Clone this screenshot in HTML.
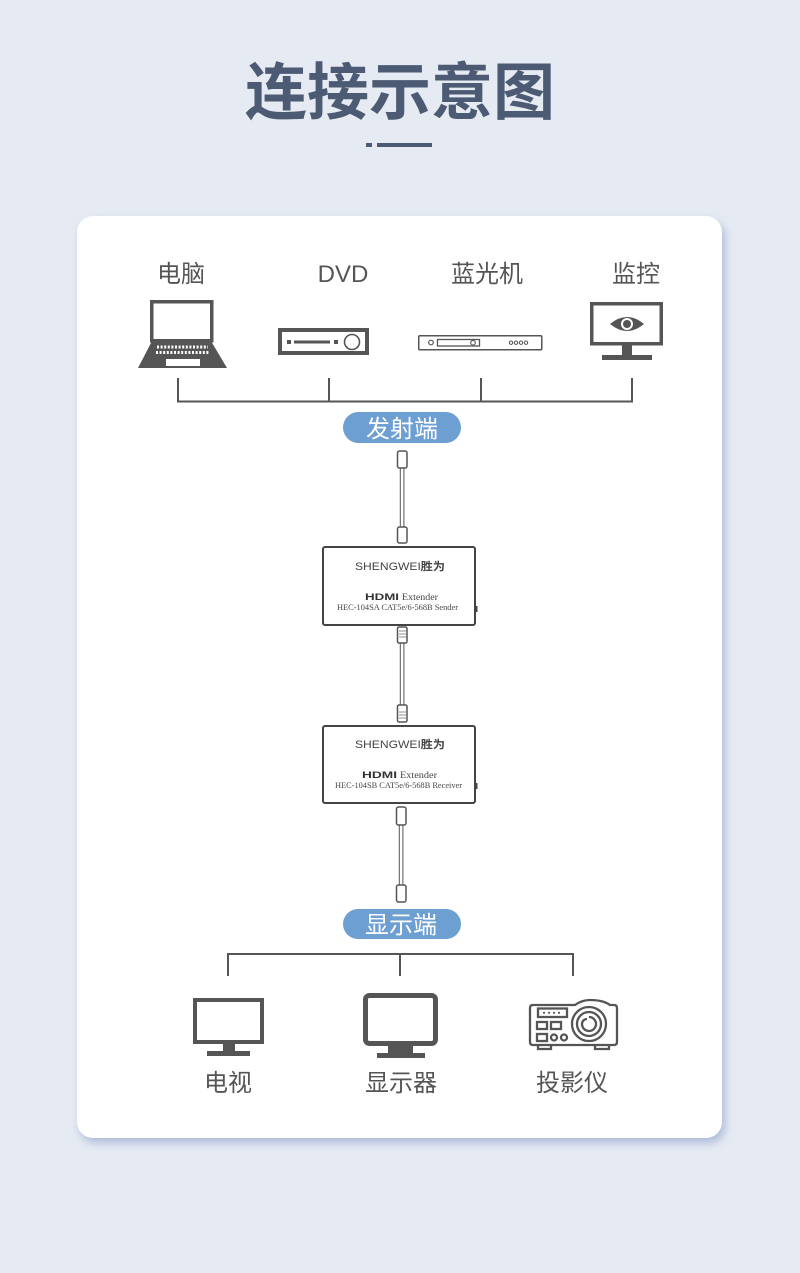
<!DOCTYPE html>
<html>
<head>
<meta charset="utf-8">
<style>
html,body{margin:0;padding:0;}
body{width:800px;height:1273px;background:#e6ebf3;position:relative;overflow:hidden;font-family:"Liberation Sans","Noto Sans CJK SC",sans-serif;}
.card{position:absolute;left:77px;top:216px;width:645px;height:922px;background:#fff;border-radius:16px;box-shadow:3px 5px 9px rgba(130,148,198,0.55);}
svg{position:absolute;left:0;top:0;}
</style>
</head>
<body>
<div class="card"></div>
<svg width="800" height="1273" viewBox="0 0 800 1273" xmlns="http://www.w3.org/2000/svg">
  <!-- Title -->
  <text x="400" y="114" text-anchor="middle" font-family="'Noto Sans CJK SC',sans-serif" font-weight="700" font-size="62" fill="#4c5a73">连接示意图</text>
  <rect x="366" y="143" width="6" height="4" fill="#4c5a73"/>
  <rect x="377" y="143" width="55" height="4" fill="#4c5a73"/>

  <!-- Top labels -->
  <g font-family="'Liberation Sans','Noto Sans CJK SC',sans-serif" font-size="24" fill="#555" text-anchor="middle">
    <text x="181" y="282">电脑</text>
    <text x="343" y="282">DVD</text>
    <text x="487" y="282">蓝光机</text>
    <text x="636" y="282">监控</text>
  </g>

  <!-- Laptop -->
  <rect x="151.75" y="301.75" width="60" height="39" fill="none" stroke="#555" stroke-width="3.5"/>
  <polygon points="152,341 211,341 227,368 138,368" fill="#555"/>
  <line x1="157" y1="347" x2="208" y2="347" stroke="#fff" stroke-width="3" stroke-dasharray="2 1.6"/>
  <line x1="156" y1="352.5" x2="210" y2="352.5" stroke="#fff" stroke-width="3" stroke-dasharray="2 1.6"/>
  <rect x="166" y="359" width="34" height="7" fill="#fff"/>

  <!-- DVD -->
  <rect x="280" y="330" width="87" height="23" fill="#fff" stroke="#555" stroke-width="4"/>
  <rect x="287" y="340" width="4" height="4" fill="#555"/>
  <rect x="294" y="340.5" width="36" height="3" fill="#555"/>
  <rect x="334" y="340" width="4" height="4" fill="#555"/>
  <circle cx="352" cy="342" r="7.5" fill="#fff" stroke="#555" stroke-width="1.6"/>

  <!-- Blu-ray -->
  <rect x="418.75" y="335.75" width="123" height="14" rx="1" fill="#fff" stroke="#555" stroke-width="1.5"/>
  <circle cx="431" cy="342.5" r="2.3" fill="none" stroke="#555" stroke-width="1.2"/>
  <rect x="437.5" y="339.5" width="42" height="6.5" fill="none" stroke="#555" stroke-width="1.3"/>
  <circle cx="473" cy="342.7" r="2.3" fill="none" stroke="#555" stroke-width="1.1"/>
  <g fill="none" stroke="#555" stroke-width="1">
    <circle cx="511" cy="342.7" r="1.7"/><circle cx="516" cy="342.7" r="1.7"/><circle cx="521" cy="342.7" r="1.7"/><circle cx="526" cy="342.7" r="1.7"/>
  </g>

  <!-- Surveillance monitor -->
  <rect x="591.75" y="303.75" width="69.5" height="40" fill="#fff" stroke="#555" stroke-width="3.5"/>
  <rect x="622" y="345" width="10" height="10" fill="#555"/>
  <rect x="602" y="355" width="50" height="5" fill="#555"/>
  <path d="M610,324 Q627,310 644,324 Q627,338 610,324 Z" fill="#555"/>
  <circle cx="627" cy="324" r="6" fill="#fff"/>
  <circle cx="627" cy="324" r="4" fill="#555"/>

  <!-- Top connector lines -->
  <g stroke="#555" stroke-width="2" fill="none">
    <line x1="178" y1="378" x2="178" y2="402"/>
    <line x1="329" y1="378" x2="329" y2="402"/>
    <line x1="481" y1="378" x2="481" y2="402"/>
    <line x1="632" y1="378" x2="632" y2="402"/>
    <line x1="177" y1="401.5" x2="633" y2="401.5"/>
  </g>

  <!-- Pill 发射端 -->
  <rect x="343" y="412" width="118" height="31" rx="15.5" fill="#6e9fd3"/>
  <text x="402" y="437" text-anchor="middle" font-family="'Noto Sans CJK SC',sans-serif" font-size="24" fill="#fff">发射端</text>

  <!-- Cable 1 (pill -> sender) -->
  <g stroke="#555" fill="#fff">
    <rect x="400.3" y="466" width="3.6" height="62" stroke-width="1"/>
    <rect x="397.5" y="451" width="9.5" height="17" rx="2" stroke-width="1.5"/>
    <rect x="397.5" y="527" width="9.5" height="16" rx="2" stroke-width="1.5"/>
  </g>

  <!-- Sender box -->
  <rect x="323" y="547" width="152" height="78" rx="2" fill="#fff" stroke="#444" stroke-width="2"/>
  <rect x="475" y="606" width="2.5" height="6" fill="#444"/>
  <text x="355" y="570" font-family="'Liberation Sans','Noto Sans CJK SC',sans-serif" font-size="11" fill="#444" textLength="90" lengthAdjust="spacingAndGlyphs">SHENGWEI<tspan font-weight="700">胜为</tspan></text>
  <text x="365" y="600" font-family="'Liberation Sans',sans-serif" font-size="9" font-weight="700" fill="#333" textLength="34" lengthAdjust="spacingAndGlyphs">HDMI</text>
  <text x="402" y="600" font-family="'Liberation Serif',serif" font-size="9" fill="#444" textLength="36" lengthAdjust="spacingAndGlyphs">Extender</text>
  <text x="337" y="610" font-family="'Liberation Serif',serif" font-size="8.5" fill="#444" textLength="121" lengthAdjust="spacingAndGlyphs">HEC-104SA CAT5e/6-568B Sender</text>

  <!-- Cable 2 (sender -> receiver) -->
  <g stroke="#555" fill="#fff">
    <rect x="400.3" y="640" width="3.6" height="67" stroke-width="1"/>
    <rect x="397.5" y="627" width="9.5" height="16" rx="1.5" stroke-width="1.5"/>
    <rect x="397.5" y="705" width="9.5" height="17" rx="1.5" stroke-width="1.5"/>
  </g>
  <g stroke="#777" stroke-width="0.8">
    <line x1="399" y1="631" x2="406" y2="631"/><line x1="399" y1="634" x2="406" y2="634"/><line x1="399" y1="637" x2="406" y2="637"/>
    <line x1="399" y1="712" x2="406" y2="712"/><line x1="399" y1="715" x2="406" y2="715"/><line x1="399" y1="718" x2="406" y2="718"/>
  </g>

  <!-- Receiver box -->
  <rect x="323" y="726" width="152" height="77" rx="2" fill="#fff" stroke="#444" stroke-width="2"/>
  <rect x="475" y="783" width="2.5" height="6" fill="#444"/>
  <text x="355" y="748" font-family="'Liberation Sans','Noto Sans CJK SC',sans-serif" font-size="11" fill="#444" textLength="90" lengthAdjust="spacingAndGlyphs">SHENGWEI<tspan font-weight="700">胜为</tspan></text>
  <text x="362" y="778" font-family="'Liberation Sans',sans-serif" font-size="9" font-weight="700" fill="#333" textLength="35" lengthAdjust="spacingAndGlyphs">HDMI</text>
  <text x="400" y="778" font-family="'Liberation Serif',serif" font-size="9" fill="#444" textLength="37" lengthAdjust="spacingAndGlyphs">Extender</text>
  <text x="335" y="788" font-family="'Liberation Serif',serif" font-size="8.5" fill="#444" textLength="127" lengthAdjust="spacingAndGlyphs">HEC-104SB CAT5e/6-568B Receiver</text>

  <!-- Cable 3 (receiver -> pill) -->
  <g stroke="#555" fill="#fff">
    <rect x="399.3" y="823" width="3.6" height="64" stroke-width="1"/>
    <rect x="396.5" y="807" width="9.5" height="18" rx="2" stroke-width="1.5"/>
    <rect x="396.5" y="885" width="9.5" height="17" rx="2" stroke-width="1.5"/>
  </g>

  <!-- Pill 显示端 -->
  <rect x="343" y="909" width="118" height="30" rx="15" fill="#6e9fd3"/>
  <text x="401" y="933" text-anchor="middle" font-family="'Noto Sans CJK SC',sans-serif" font-size="24" fill="#fff">显示端</text>

  <!-- Bottom connector lines -->
  <g stroke="#555" stroke-width="2" fill="none">
    <line x1="228" y1="953" x2="228" y2="976"/>
    <line x1="400" y1="953" x2="400" y2="976"/>
    <line x1="573" y1="953" x2="573" y2="976"/>
    <line x1="227" y1="954" x2="574" y2="954"/>
  </g>

  <!-- TV -->
  <rect x="195" y="1000" width="67" height="42" fill="#fff" stroke="#555" stroke-width="4"/>
  <rect x="223" y="1044" width="12" height="7" fill="#555"/>
  <rect x="207" y="1051" width="43" height="5" fill="#555"/>

  <!-- Monitor -->
  <rect x="365.5" y="995.5" width="70" height="48" rx="4" fill="#fff" stroke="#555" stroke-width="5"/>
  <rect x="388" y="1046" width="25" height="7" fill="#555"/>
  <rect x="377" y="1053" width="48" height="5" fill="#555"/>

  <!-- Projector -->
  <g fill="none" stroke="#555" stroke-width="2.3">
    <path d="M533,1005 L575,1005 Q582,1000 590,1000 Q603,1000 610,1005 L614,1005 Q617,1005 617,1008 L617,1042 Q617,1045 614,1045 L533,1045 Q530,1045 530,1042 L530,1008 Q530,1005 533,1005 Z"/>
    <rect x="538" y="1008.5" width="29" height="8.5"/>
    <rect x="537" y="1022" width="10" height="7"/>
    <rect x="551" y="1022" width="10" height="7"/>
    <rect x="537" y="1034" width="10" height="7"/>
    <circle cx="554" cy="1037.5" r="3"/>
    <circle cx="564" cy="1037.5" r="3"/>
    <circle cx="589" cy="1024" r="17"/>
    <circle cx="589" cy="1024" r="12"/>
    <path d="M589,1017 A7,7 0 1,1 582,1024 A5,5 0 0,1 587,1019"/>
    <path d="M538,1045 L538,1049 L551,1049 L551,1045"/>
    <path d="M595,1045 L595,1049 L609,1049 L609,1045"/>
  </g>
  <g fill="#555">
    <circle cx="544" cy="1012.8" r="1.1"/><circle cx="549" cy="1012.8" r="1.1"/><circle cx="554" cy="1012.8" r="1.1"/><circle cx="559" cy="1012.8" r="1.1"/>
  </g>

  <!-- Bottom labels -->
  <g font-family="'Noto Sans CJK SC',sans-serif" font-size="24" fill="#555" text-anchor="middle">
    <text x="228" y="1091">电视</text>
    <text x="401" y="1091">显示器</text>
    <text x="572" y="1091">投影仪</text>
  </g>
</svg>
</body>
</html>
